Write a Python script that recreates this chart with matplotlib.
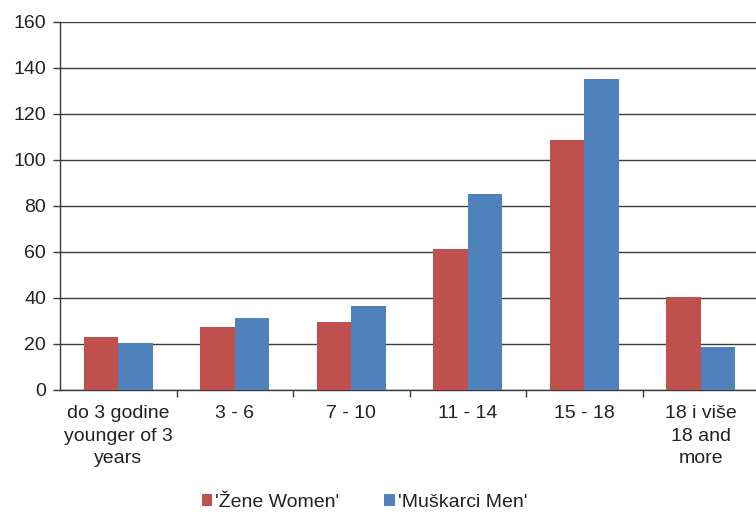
import numpy as np
import matplotlib
matplotlib.use('Agg')
import matplotlib.pyplot as plt

plt.rcParams['font.family'] = ['Liberation Sans', 'DejaVu Sans']

categories = ['do 3 godine\nyounger of 3\nyears', '3 - 6', '7 - 10', '11 - 14', '15 - 18',
              '18 i više\n18 and\nmore']
women = [23, 27.5, 29.5, 61.5, 108.5, 40.5]
men = [20.5, 31.5, 36.5, 85.3, 135.3, 18.5]
series_names = ["'Žene Women'", "'Muškarci Men'"]
y_ticks = [0, 20, 40, 60, 80, 100, 120, 140, 160]

red = '#C0504D'
blue = '#4F81BD'

fig = plt.figure(figsize=(7.56, 5.14), dpi=100)
ax = fig.add_axes([60 / 756, 1 - 390 / 514, 699 / 756, (390 - 22) / 514])

x = np.arange(len(categories))
w = 0.295
ax.bar(x - w / 2, women, w, color=red, label=series_names[0], zorder=3)
ax.bar(x + w / 2, men, w, color=blue, label=series_names[1], zorder=3)

ax.set_xlim(-0.5, len(categories) - 0.5)
ax.set_ylim(0, 160)
ax.set_yticks(y_ticks)
ax.yaxis.grid(True, color='#3a3a3a', linewidth=1, zorder=0)
ax.set_axisbelow(True)

ax.set_xticks(x)
ax.set_xticklabels(categories, fontsize=14, linespacing=1.42, color='#222222')
ax.tick_params(axis='x', which='major', length=0, pad=11)
ax.set_xticks(np.arange(0.5, len(categories) - 0.5, 1), minor=True)
ax.tick_params(axis='x', which='minor', length=5, width=1, color='#3a3a3a')
ax.tick_params(axis='y', length=5, width=1, color='#3a3a3a', labelsize=14,
               labelcolor='#222222', pad=5)

for s in ['top', 'right']:
    ax.spines[s].set_visible(False)
for s in ['left', 'bottom']:
    ax.spines[s].set_color('#3a3a3a')
    ax.spines[s].set_linewidth(1)

fig.legend(loc='lower center', bbox_to_anchor=(0.482, -0.028), ncol=2, frameon=False,
           fontsize=14, handlelength=0.55, handleheight=0.55, handletextpad=0.15,
           columnspacing=2.3, labelcolor='#222222')

fig.savefig('out.png', dpi=100)
